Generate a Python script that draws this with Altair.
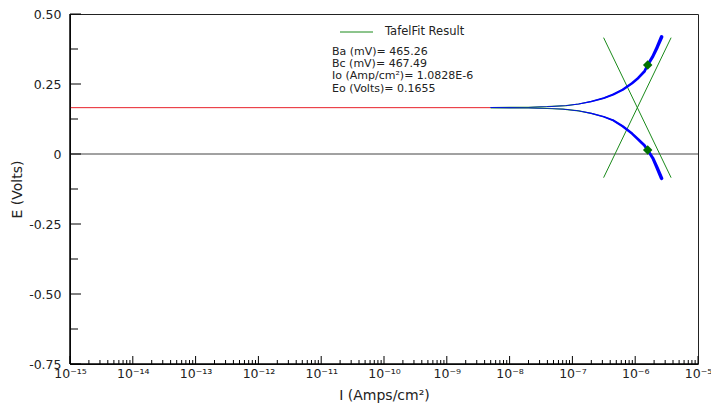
import altair as alt
import pandas as pd

# ---------------- data ----------------
E0 = 0.1655

anodic_I = [5.0e-9, 1.0e-8, 2.0e-8, 3.98e-8, 7.94e-8, 1.26e-7, 2.0e-7, 3.16e-7, 4.47e-7,
            6.31e-7, 8.91e-7, 1.12e-6, 1.41e-6, 1.58e-6, 1.91e-6, 2.24e-6, 2.63e-6]
anodic_E = [0.1658, 0.1662, 0.1668, 0.1690, 0.1730, 0.1785, 0.1875, 0.1995, 0.2125,
            0.2295, 0.2525, 0.2715, 0.2955, 0.3180, 0.3485, 0.3815, 0.4180]

cathodic_I = [5.0e-9, 1.0e-8, 2.0e-8, 3.98e-8, 7.08e-8, 1.26e-7, 2.0e-7, 3.16e-7, 4.47e-7,
              6.31e-7, 8.91e-7, 1.12e-6, 1.41e-6, 1.58e-6, 1.91e-6, 2.24e-6, 2.63e-6]
cathodic_E = [0.1652, 0.1648, 0.1642, 0.1625, 0.1600, 0.1540, 0.1450, 0.1330, 0.1200,
              0.0990, 0.0730, 0.0520, 0.0300, 0.0140, -0.0150, -0.0500, -0.0870]

rest_I = [1e-15, 5.0e-9]
rest_E = [E0, E0]

tafel_a_I = [3.14e-7, 3.73e-6]
tafel_a_E = [-0.0845, 0.4155]
tafel_c_I = [3.14e-7, 3.73e-6]
tafel_c_E = [0.4155, -0.0845]

marker_I = [1.58e-6, 1.58e-6]
marker_E = [0.318, 0.014]

x_major = [1e-15, 1e-14, 1e-13, 1e-12, 1e-11, 1e-10, 1e-9, 1e-8, 1e-7, 1e-6, 1e-5]
x_labels = ["10⁻¹⁵", "10⁻¹⁴", "10⁻¹³", "10⁻¹²", "10⁻¹¹", "10⁻¹⁰",
            "10⁻⁹", "10⁻⁸", "10⁻⁷", "10⁻⁶", "10⁻⁵"]
x_minor = [m * d for d in x_major[:-1] for m in range(2, 10)]

y_major = [-0.75, -0.5, -0.25, 0.0, 0.25, 0.5]
y_labels = ["-0.75", "-0.50", "-0.25", "0", "0.25", "0.50"]
y_minor = [-0.625, -0.375, -0.125, 0.125, 0.375]

legend_title = "TafelFit Result"
fit_lines = ["Ba (mV)= 465.26", "Bc (mV)= 467.49",
             "Io (Amp/cm²)= 1.0828E-6", "Eo (Volts)= 0.1655"]

# ---------------- layout ----------------
W, H = 628, 350
FONT = "DejaVu Sans"
TXT = "#222"

xscale = alt.Scale(type="log", domain=[1e-15, 1e-5], nice=False)
yscale = alt.Scale(domain=[-0.75, 0.5], nice=False, zero=False)

xlabel_expr = "[" + ",".join("'%s'" % s for s in x_labels) + "][round(log(datum.value)/LN10)+15]"
ylabel_expr = "[" + ",".join("'%s'" % s for s in y_labels) + "][round(datum.value*4)+3]"

X = alt.X("I:Q", scale=xscale,
          axis=alt.Axis(values=x_major, labelExpr=xlabel_expr, ticks=False, domain=False,
                        grid=False, labelPadding=3, labelFontSize=12.5, labelFont=FONT,
                        labelColor=TXT, title="I (Amps/cm²)", titleFont=FONT,
                        titleFontSize=14, titleFontWeight="normal", titleColor=TXT,
                        titlePadding=9, labelFlush=False))
Y = alt.Y("E:Q", scale=yscale,
          axis=alt.Axis(values=y_major, labelExpr=ylabel_expr, ticks=False, domain=False,
                        grid=False, labelPadding=9, labelFontSize=12.5, labelFont=FONT,
                        labelColor=TXT, title="E (Volts)", titleFont=FONT,
                        titleFontSize=14, titleFontWeight="normal", titleColor=TXT,
                        titlePadding=4, labelFlush=False))
XS = alt.X("I:Q", scale=xscale)
YS = alt.Y("E:Q", scale=yscale)


def df(i, e, name=""):
    return pd.DataFrame({"I": i, "E": e, "s": name})


rest_line = alt.Chart(df(rest_I, rest_E)).mark_line(color="#e8202a", strokeWidth=1).encode(x=X, y=Y)

zero_line = alt.Chart(pd.DataFrame({"E": [0.0]})).mark_rule(color="#444", strokeWidth=1).encode(y=YS)

curve_df = pd.concat([df(anodic_I, anodic_E, "a"), df(cathodic_I, cathodic_E, "c")])

fit_curve = alt.Chart(curve_df).mark_line(color="#1a8a1a", strokeWidth=1.2).encode(
    x=XS, y=YS, detail="s:N")

curve = alt.Chart(curve_df).transform_calculate(
    w="abs(datum.E - %f)" % E0
).mark_trail(color="#0000ff").encode(
    x=XS, y=YS, detail="s:N",
    size=alt.Size("w:Q", scale=alt.Scale(domain=[0, 0.05, 0.26], range=[0.6, 2.2, 3.6]),
                  legend=None))

tafel_df = pd.concat([df(tafel_a_I, tafel_a_E, "a"), df(tafel_c_I, tafel_c_E, "c")])
tafel = alt.Chart(tafel_df).mark_line(color="#1a8a1a", strokeWidth=1).encode(
    x=XS, y=YS, detail="s:N")

markers = alt.Chart(df(marker_I, marker_E)).mark_point(
    shape="diamond", filled=True, color="#007000", size=90, opacity=1).encode(x=XS, y=YS)

# inward ticks
xmaj_ticks = alt.Chart(pd.DataFrame({"I": x_major})).mark_rule(color="#000").encode(
    x=XS, y=alt.value(H), y2=alt.value(H - 8))
xmin_ticks = alt.Chart(pd.DataFrame({"I": x_minor})).mark_rule(color="#000").encode(
    x=XS, y=alt.value(H), y2=alt.value(H - 4))
ymaj_ticks = alt.Chart(pd.DataFrame({"E": y_major})).mark_rule(color="#000").encode(
    y=YS, x=alt.value(0), x2=alt.value(11))
ymin_ticks = alt.Chart(pd.DataFrame({"E": y_minor})).mark_rule(color="#000").encode(
    y=YS, x=alt.value(0), x2=alt.value(8))

# frame: left & bottom darker
left_dom = alt.Chart(pd.DataFrame({"v": [0]})).mark_rule(color="#000", strokeWidth=1.5).encode(
    x=alt.value(0), y=alt.value(0), y2=alt.value(H))
bottom_dom = alt.Chart(pd.DataFrame({"v": [0]})).mark_rule(color="#000", strokeWidth=1.5).encode(
    y=alt.value(H), x=alt.value(0), x2=alt.value(W))

# legend / fit result box
leg_line = alt.Chart(pd.DataFrame({"v": [0]})).mark_rule(color="#1a8a1a", strokeWidth=1).encode(
    x=alt.value(270), x2=alt.value(303), y=alt.value(18))
leg_text = alt.Chart(pd.DataFrame({"t": [legend_title]})).mark_text(
    align="left", baseline="middle", font=FONT, fontSize=11.5, color=TXT).encode(
    text="t:N", x=alt.value(315), y=alt.value(18))

fit_layers = []
for k, line in enumerate(fit_lines):
    fit_layers.append(
        alt.Chart(pd.DataFrame({"t": [line]})).mark_text(
            align="left", baseline="middle", font=FONT, fontSize=11, color=TXT).encode(
            text="t:N", x=alt.value(262), y=alt.value(38 + 12.2 * k)))

chart = alt.layer(
    rest_line, zero_line, tafel, fit_curve, curve, markers,
    xmaj_ticks, xmin_ticks, ymaj_ticks, ymin_ticks, left_dom, bottom_dom,
    leg_line, leg_text, *fit_layers
).properties(
    width=W, height=H,
    autosize=alt.AutoSizeParams(type="none"),
    padding={"left": 70, "top": 14, "right": 13, "bottom": 48},
    background="white",
).configure_view(stroke="#222", strokeWidth=1)

chart.save("out.html", embed_options={"renderer": "svg", "actions": False})
